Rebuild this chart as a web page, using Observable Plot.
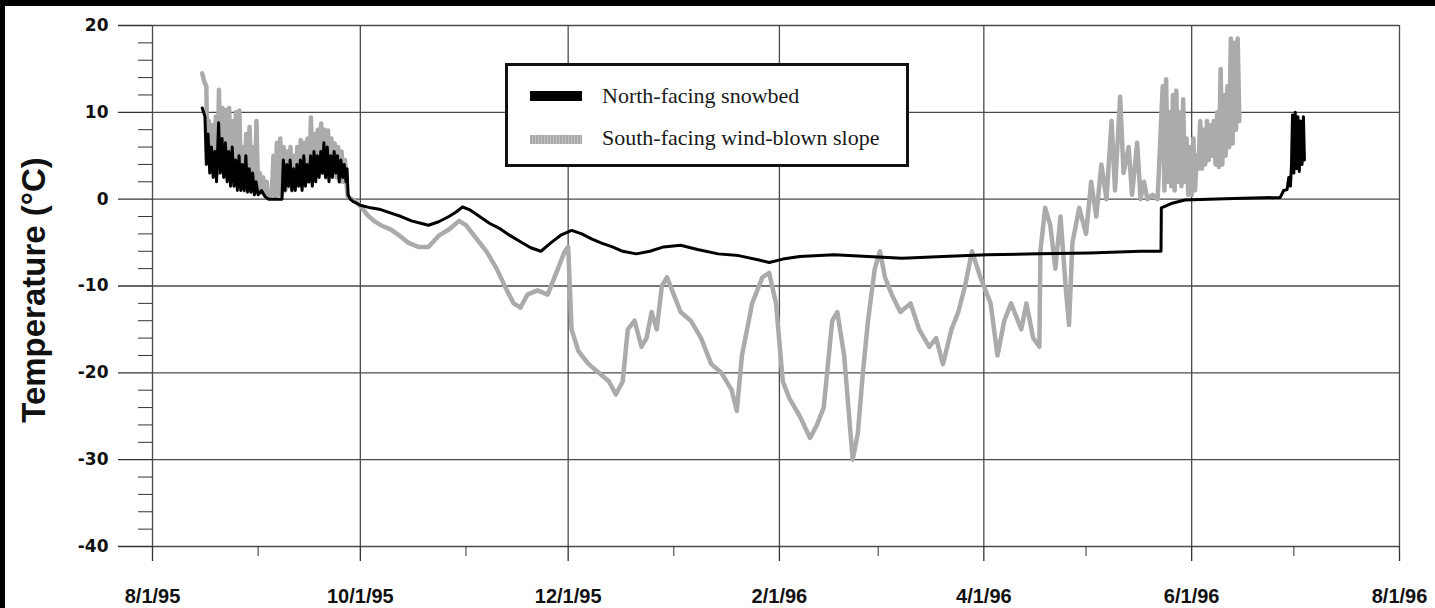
<!DOCTYPE html>
<html>
<head>
<meta charset="utf-8">
<script src="https://cdn.jsdelivr.net/npm/d3@7"></script>
<script src="https://cdn.jsdelivr.net/npm/@observablehq/plot@0.6"></script>
<style>
  html, body { margin: 0; padding: 0; background: #fff; }
  body { width: 1435px; height: 608px; position: relative; overflow: hidden; }
  #chart { position: absolute; left: 0; top: 0; }
  .edge { position: absolute; background: #000; z-index: 5; }
  #legend {
    position: absolute; left: 505px; top: 63px; width: 404px; height: 104px;
    box-sizing: border-box; border: 3px solid #111; background: #fff; z-index: 4;
    font-family: "Liberation Serif", "Times New Roman", serif; font-size: 22px; color: #1a1a1a;
  }
  #legend .sw { position: absolute; left: 22px; width: 52px; }
  #legend .lab { position: absolute; left: 94px; line-height: 22px; white-space: nowrap; }
</style>
</head>
<body>
<div id="chart"></div>
<div class="edge" style="left:0;top:0;width:1435px;height:6px"></div>
<div class="edge" style="left:0;top:0;width:5px;height:608px"></div>
<div id="legend">
  <div class="sw" style="top:25px;height:10px;background:#000"></div>
  <div class="lab" style="top:19px">North-facing snowbed</div>
  <div class="sw" style="top:69px;height:9px;background:repeating-linear-gradient(90deg,#a8a8a8 0 2px,#c4c4c4 2px 3px)"></div>
  <div class="lab" style="top:61px">South-facing wind-blown slope</div>
</div>
<script>
// Soil-surface temperature records, Aug 1995 – Jul 1996.
// Each reading is [days since 1 Aug 1995, temperature in °C].
const northReadings = [
  [14.6,10.5],[15.0,10.0],[15.4,9.5],[15.8,4.0],[16.3,7.5],[16.8,3.0],[17.3,6.0],[17.8,2.5],
  [18.3,5.5],[18.8,2.0],[19.4,8.8],[19.9,3.0],[20.4,7.0],[20.9,2.5],[21.4,6.5],[21.9,2.0],
  [22.4,5.5],[22.9,1.5],[23.4,6.0],[23.9,1.5],[24.4,4.5],[24.9,1.0],[25.4,5.0],[25.9,1.0],
  [26.4,4.0],[26.9,1.0],[27.4,5.0],[27.9,0.8],[28.4,3.5],[28.9,0.8],[29.4,3.0],[29.9,0.5],
  [30.4,2.0],[31.0,0.5],[32.0,1.0],[33.0,0.3],[34.0,0.0],[36.0,0.0],[38.0,0.0],[38.4,4.5],
  [38.9,1.0],[39.4,4.0],[39.9,1.5],[40.4,4.5],[40.9,1.0],[41.4,3.5],[41.9,1.0],[42.4,4.0],
  [42.9,1.5],[43.4,4.5],[43.9,1.0],[44.4,5.0],[44.9,1.5],[45.4,4.0],[45.9,2.0],[46.4,5.0],
  [46.9,1.5],[47.4,5.5],[47.9,2.0],[48.4,5.0],[48.9,2.5],[49.4,5.5],[49.9,3.0],[50.3,6.5],
  [50.8,2.5],[51.3,6.0],[51.8,2.0],[52.3,5.0],[52.8,2.5],[53.3,5.5],[53.8,3.0],[54.3,5.0],
  [54.8,2.0],[55.3,4.5],[55.8,2.5],[56.3,4.0],[56.8,2.0],[57.1,3.5],[57.4,0.5],[58,0.0],
  [59,-0.3],[60,-0.5],[61,-0.7],[64,-1.0],[67,-1.2],[70,-1.6],[73,-2.0],[76,-2.5],
  [79,-2.8],[81,-3.0],[84,-2.6],[87,-2.0],[89,-1.5],[91,-0.9],[93,-1.2],[96,-2.0],
  [99,-2.8],[102,-3.4],[105,-4.2],[108,-4.9],[111,-5.6],[114,-6.0],[117,-5.0],[120,-4.1],
  [123,-3.6],[126,-4.0],[129,-4.6],[132,-5.1],[135,-5.5],[138,-6.0],[142,-6.3],[146,-6.0],
  [150,-5.5],[155,-5.3],[160,-5.8],[166,-6.3],[172,-6.5],[178,-7.0],[181,-7.3],[185,-6.9],
  [190,-6.6],[200,-6.4],[210,-6.6],[220,-6.8],[232,-6.6],[245,-6.4],[260,-6.3],[275,-6.2],
  [290,-6.0],[296,-6.0],[296.1,-1.0],[299,-0.5],[303,-0.1],[310,0.0],[320,0.1],[331,0.2],
  [332,1.0],[333,1.1],[333.5,2.5],[334,1.5],[334.3,4.0],[334.6,9.7],[335,3.0],[335.4,10.0],
  [335.8,3.5],[336.2,9.5],[336.6,3.2],[337,9.0],[337.4,4.0],[337.8,9.5],[338.1,4.5]
];

const southReadings = [
  [14.6,14.5],[15.2,13.5],[15.8,13.0],[16.1,4.5],[16.6,9.0],[17.1,3.5],[17.6,8.5],[18.1,3.0],
  [18.6,9.5],[19.1,3.0],[19.5,12.6],[20.0,3.5],[20.5,10.5],[21.0,3.0],[21.5,10.3],[22.0,2.5],
  [22.5,10.5],[23.0,2.5],[23.5,9.0],[24.0,2.0],[24.5,10.0],[25.0,1.5],[25.5,10.2],[26.0,1.5],
  [26.5,6.0],[27.0,1.0],[27.5,7.5],[28.0,1.0],[28.5,8.3],[29.0,1.0],[29.5,6.0],[30.0,1.0],
  [30.5,9.0],[31.0,0.8],[31.5,3.0],[32.0,0.8],[32.5,2.5],[33.0,0.5],[33.5,2.0],[34.0,0.2],
  [35.0,0.5],[35.5,5.0],[36.0,0.3],[36.5,6.5],[37.0,0.5],[37.5,7.0],[38.0,0.5],[38.5,6.0],
  [39.0,1.0],[39.5,5.5],[40.0,1.5],[40.5,6.0],[41.0,1.0],[41.5,5.0],[42.0,1.5],[42.5,6.0],
  [43.0,2.0],[43.5,6.8],[44.0,1.5],[44.5,6.5],[45.0,2.0],[45.5,7.0],[46.0,2.0],[46.5,9.4],
  [47.0,2.5],[47.5,7.5],[48.0,3.0],[48.5,8.0],[49.0,3.0],[49.5,8.7],[50.0,3.0],[50.5,8.0],
  [51.0,2.5],[51.5,7.9],[52.0,3.0],[52.5,7.0],[53.0,3.0],[53.5,6.4],[54.0,2.5],[54.5,6.0],
  [55.0,2.0],[55.5,5.5],[56.0,2.0],[56.5,4.5],[57.0,1.5],[57.3,0.3],[58.5,0.0],[60,-0.4],
  [61.5,-1.0],[63,-1.8],[65,-2.5],[67,-3.0],[70,-3.5],[72.5,-4.2],[75,-5.0],[78,-5.5],
  [81,-5.5],[84,-4.2],[87,-3.5],[90,-2.5],[92,-3.0],[95,-4.5],[98,-6.0],[101,-8.0],
  [104,-10.5],[106,-12.0],[108,-12.5],[110,-11.0],[113,-10.5],[116,-11.0],[119,-8.0],[121,-6.0],
  [122,-5.5],[123,-15.0],[125,-17.5],[128,-19.0],[131,-20.0],[134,-21.0],[136,-22.5],[138,-21.0],
  [139.5,-15.0],[141.5,-14.0],[143.5,-17.0],[145,-16.0],[146.5,-13.0],[148,-15.0],[149.5,-10.0],[151,-9.0],
  [153,-11.0],[155,-13.0],[158,-14.0],[161,-16.0],[164,-19.0],[167,-20.0],[170,-22.0],[171.5,-24.4],
  [173,-18.0],[176,-12.0],[179,-9.0],[181,-8.5],[183,-12.0],[185,-21.0],[187,-23.0],[190,-25.0],
  [193,-27.5],[195,-26.0],[197,-24.0],[199.5,-14.0],[201,-13.0],[203,-18.0],[205.5,-30.0],[207,-27.0],
  [208.5,-20.0],[210,-14.0],[212,-8.0],[213.5,-6.0],[215,-9.0],[217,-11.0],[219.5,-13.0],[222.5,-12.0],
  [225,-15.0],[228,-17.0],[230,-16.0],[232,-19.0],[234.5,-15.0],[236.5,-13.0],[238.5,-10.0],[240.5,-6.0],
  [243,-9.0],[246,-12.0],[248,-18.0],[250,-14.0],[252,-12.0],[255,-15.0],[256.5,-12.0],[258.5,-16.0],
  [260.3,-17.0],[260.6,-6.0],[262,-1.0],[263.5,-3.0],[265,-8.0],[266.5,-2.0],[268,-10.0],[269,-14.5],
  [270,-5.0],[272,-1.0],[274,-4.0],[275.5,2.0],[277,-2.0],[278.5,4.0],[280,0.0],[281.5,9.0],
  [282.5,1.0],[284,11.8],[285,3.0],[286.5,6.0],[287.5,0.5],[289,6.5],[290,0.0],[291,2.0],
  [292,0.0],[293.5,0.5],[295,0.0],[296.5,13.0],[297,1.0],[297.5,13.8],[298,2.0],[298.5,10.0],
  [299,1.5],[299.5,12.0],[300,1.0],[300.5,12.5],[301,2.0],[301.5,10.0],[302,1.5],[302.5,11.5],
  [303,2.0],[303.5,7.0],[304,0.5],[304.5,6.0],[305,0.5],[305.5,7.0],[306,1.0],[306.5,5.0],
  [307,3.5],[307.5,9.0],[308,3.5],[308.5,8.0],[309,4.0],[309.5,9.0],[310,4.5],[310.5,8.5],
  [311,5.0],[311.5,9.0],[312,4.0],[312.5,10.0],[313,3.7],[313.5,15.0],[314,4.0],[314.5,12.0],
  [315,5.0],[315.5,13.0],[316,6.0],[316.5,18.5],[317,6.4],[317.5,18.0],[318,8.0],[318.5,18.5],[319,9.0]
];

// Axis ticks
const xTickDates = ["1995-08-01","1995-10-01","1995-12-01","1996-02-01","1996-04-01","1996-06-01","1996-08-01"];
const xTickLabels = ["8/1/95","10/1/95","12/1/95","2/1/96","4/1/96","6/1/96","8/1/96"];
const xMinorDates = ["1995-09-01","1995-11-01","1996-01-01","1996-03-01","1996-05-01","1996-07-01"];
const yTicks = [20, 10, 0, -10, -20, -30, -40];
const yMinorTicks = [18,16,14,12, 8,6,4,2, -2,-4,-6,-8, -12,-14,-16,-18, -22,-24,-26,-28, -32,-34,-36,-38];
const yTitle = "Temperature (°C)";

const start = Date.UTC(1995, 7, 1);
const toDate = d => new Date(start + d * 864e5);
const north = northReadings.map(([d, t]) => ({date: toDate(d), temp: t}));
const south = southReadings.map(([d, t]) => ({date: toDate(d), temp: t}));

const majorX = xTickDates.map(s => new Date(s + "T00:00:00Z"));
const minorX = xMinorDates.map(s => new Date(s + "T00:00:00Z"));
const labelOf = new Map(majorX.map((d, i) => [+d, xTickLabels[i]]));

const gridColor = "#4a4a4a";

const chart = Plot.plot({
  width: 1435,
  height: 608,
  marginLeft: 152,
  marginRight: 36,
  marginTop: 25,
  marginBottom: 62,
  style: {color: "#111", background: "#fff"},
  x: {type: "utc", domain: [majorX[0], majorX[majorX.length - 1]]},
  y: {domain: [-40, 20]},
  marks: [
    Plot.gridX(majorX, {stroke: gridColor, strokeOpacity: 1, strokeWidth: 1.3}),
    Plot.gridY(yTicks, {stroke: gridColor, strokeOpacity: 1, strokeWidth: 1.3}),
    Plot.axisY(yMinorTicks, {tickSize: 14, tickFormat: () => "", stroke: "#333", label: null}),
    Plot.axisY(yTicks, {
      tickSize: 34, tickPadding: 10, stroke: "#333", strokeWidth: 1.3, label: null,
      tickFormat: d => String(d),
      fontFamily: "DejaVu Sans", fontWeight: "bold", fontSize: 17
    }),
    Plot.axisX(minorX, {tickSize: 10, tickFormat: () => "", stroke: "#333", label: null}),
    Plot.axisX(majorX, {
      tickSize: 15, tickPadding: 27, stroke: "#333", strokeWidth: 1.3, label: null,
      tickFormat: d => labelOf.get(+d),
      fontFamily: "Liberation Sans", fontWeight: "bold", fontSize: 20
    }),
    Plot.text([yTitle], {
      frameAnchor: "left", textAnchor: "middle", lineAnchor: "middle",
      dx: -118, dy: 4, rotate: -90,
      fontFamily: "Liberation Sans", fontWeight: "bold", fontSize: 33, fill: "#111"
    }),
    Plot.line(south, {x: "date", y: "temp", stroke: "#ababab", strokeWidth: 4.5, strokeLinejoin: "round"}),
    Plot.line(north, {x: "date", y: "temp", stroke: "#000", strokeWidth: 3, strokeLinejoin: "round"})
  ]
});

document.getElementById("chart").appendChild(chart);
</script>
</body>
</html>
